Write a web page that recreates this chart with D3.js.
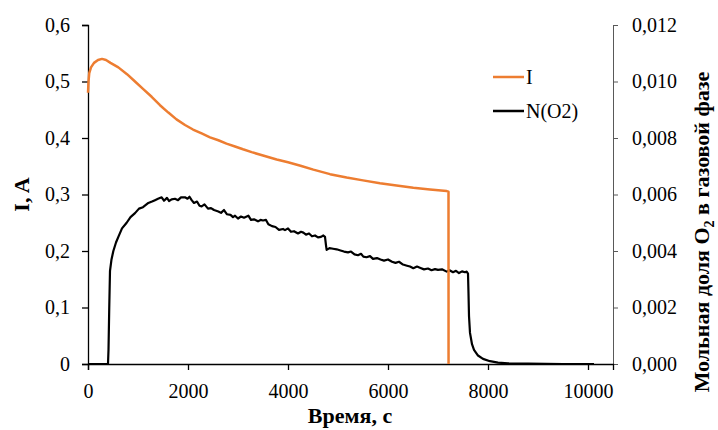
<!DOCTYPE html>
<html>
<head>
<meta charset="utf-8">
<script src="https://cdn.jsdelivr.net/npm/d3@7"></script>
<style>
  body { margin: 0; background: #fff; }
  svg text { font-family: "Liberation Serif", "Times New Roman", serif !important; }
</style>
</head>
<body>
<svg id="chart_svg" width="718" height="430"></svg>
<script>
// time, s / current, A
var currentTime = [0, 10, 25, 60, 120, 200, 280, 360, 450, 607, 780, 940, 1100, 1273, 1440, 1607, 1770, 1940, 2100, 2273, 2440, 2607, 2770, 2940, 3100, 3273, 3500, 3773, 4000, 4250, 4507, 4840, 5173, 5500, 5840, 6170, 6507, 6840, 7173, 7210, 7211];
var currentValues = [0.48, 0.50, 0.515, 0.525, 0.533, 0.538, 0.540, 0.538, 0.533, 0.525, 0.513, 0.500, 0.487, 0.473, 0.458, 0.445, 0.433, 0.423, 0.415, 0.408, 0.401, 0.396, 0.390, 0.385, 0.380, 0.375, 0.369, 0.362, 0.357, 0.351, 0.344, 0.336, 0.330, 0.325, 0.320, 0.316, 0.312, 0.309, 0.306, 0.305, 0];

// time, s / O2 mole fraction in gas phase
var o2Time = [0, 400, 410, 425, 440, 470, 507, 560, 607, 680, 773, 850, 940, 1020, 1100, 1207, 1280, 1340, 1400, 1473, 1520, 1580, 1620, 1673, 1740, 1800, 1860, 1940, 1990, 2030, 2073, 2120, 2180, 2230, 2273, 2330, 2400, 2460, 2520, 2607, 2660, 2720, 2780, 2850, 2900, 2940, 3000, 3060, 3120, 3207, 3260, 3320, 3400, 3450, 3500, 3560, 3607, 3680, 3750, 3820, 3900, 3940, 4000, 4060, 4120, 4200, 4260, 4307, 4360, 4420, 4480, 4540, 4600, 4660, 4707, 4740, 4760, 4773, 4830, 4900, 4973, 5050, 5120, 5200, 5260, 5330, 5400, 5460, 5507, 5570, 5640, 5700, 5780, 5850, 5920, 6000, 6080, 6150, 6220, 6300, 6380, 6440, 6507, 6580, 6650, 6720, 6800, 6870, 6940, 7000, 7080, 7173, 7230, 7300, 7360, 7420, 7480, 7540, 7573, 7600, 7610, 7620, 7640, 7680, 7720, 7800, 7900, 8040, 8200, 8400, 8800, 9500, 10120];
var o2Values = [0, 0, 0.0005, 0.0020, 0.0033, 0.0037, 0.0040, 0.0043, 0.0045, 0.0048, 0.0050, 0.0052, 0.00534, 0.0055, 0.00555, 0.0057, 0.00575, 0.0058, 0.00585, 0.0059, 0.00578, 0.00588, 0.00577, 0.00583, 0.00585, 0.0058, 0.0059, 0.0059, 0.00585, 0.00592, 0.0058, 0.0057, 0.00575, 0.0056, 0.00558, 0.00565, 0.0055, 0.00552, 0.00545, 0.0054, 0.00535, 0.00545, 0.0053, 0.00528, 0.0052, 0.00525, 0.00515, 0.00522, 0.00518, 0.00525, 0.0051, 0.00512, 0.00505, 0.0051, 0.00508, 0.0051, 0.00495, 0.00488, 0.00485, 0.00475, 0.00478, 0.00474, 0.0048, 0.00468, 0.0047, 0.00462, 0.00468, 0.00465, 0.00458, 0.00462, 0.00452, 0.00455, 0.00448, 0.0045, 0.00455, 0.0045, 0.0042, 0.00404, 0.0041, 0.00408, 0.00406, 0.00402, 0.00398, 0.00395, 0.00398, 0.00388, 0.00385, 0.0039, 0.0038, 0.00378, 0.00382, 0.00372, 0.00375, 0.0037, 0.00366, 0.0037, 0.00362, 0.00358, 0.00362, 0.00352, 0.00348, 0.00345, 0.00339, 0.00345, 0.0034, 0.00335, 0.00338, 0.00332, 0.00336, 0.00333, 0.00335, 0.00327, 0.00332, 0.00325, 0.0033, 0.00322, 0.00328, 0.00325, 0.00327, 0.0032, 0.0025, 0.0017, 0.0011, 0.0007, 0.0005, 0.0003, 0.00018, 0.0001, 0.00005, 0.00002, 0.00001, 0, 0];

var xTicks = [0, 2000, 4000, 6000, 8000, 10000];
var leftTicks = [0, 0.1, 0.2, 0.3, 0.4, 0.5, 0.6];
var rightTicks = [0, 0.002, 0.004, 0.006, 0.008, 0.010, 0.012];
var seriesNames = ["I", "N(O2)"];
var seriesColors = ["#ED7D31", "#000000"];

drawChart();

function drawChart() {
  var svg = d3.select("#chart_svg");
  var left = 88, right = 613, top = 25, bottom = 364;
  var serif = "'Liberation Serif', 'Times New Roman', serif";

  var xScale = d3.scaleLinear().domain([0, 10500]).range([left, right]);
  var yLeft = d3.scaleLinear().domain([0, 0.6]).range([bottom, top]);
  var yRight = d3.scaleLinear().domain([0, 0.012]).range([bottom, top]);

  var comma = function(digits) {
    return function(d) { return d3.format("." + digits + "f")(d).replace(".", ","); };
  };

  // right axis first so the plot lines sit on top
  var rAxis = svg.append("g")
     .attr("transform", "translate(" + right + ",0)")
     .call(d3.axisRight(yRight).tickValues(rightTicks).tickFormat(comma(3)).tickSizeOuter(0).tickSize(5).tickPadding(14));
  rAxis.select(".domain").attr("stroke", "#595959");
  rAxis.selectAll(".tick line").attr("stroke", "#595959");

  var xAxis = svg.append("g")
     .attr("transform", "translate(0," + bottom + ")")
     .call(d3.axisBottom(xScale).tickValues(xTicks).tickFormat(d => d).tickSizeOuter(0).tickSize(6).tickPadding(14));

  var lAxis = svg.append("g")
     .attr("transform", "translate(" + left + ",0)")
     .call(d3.axisLeft(yLeft).tickValues(leftTicks).tickFormat(d => d === 0 ? "0" : comma(1)(d)).tickSizeOuter(0).tickSize(6).tickPadding(12));

  [xAxis, lAxis].forEach(function(a) {
    a.select(".domain").attr("stroke", "#000").attr("stroke-width", 1.3);
    a.selectAll(".tick line").attr("stroke", "#000").attr("stroke-width", 1.3);
  });
  svg.selectAll("g").attr("font-family", serif);
  svg.selectAll(".tick text")
     .style("font-family", serif)
     .attr("font-size", 20)
     .attr("fill", "#000");

  // series
  var currentLine = d3.line()
      .x((d, i) => xScale(currentTime[i]))
      .y(d => yLeft(d));
  var o2Line = d3.line()
      .x((d, i) => xScale(o2Time[i]))
      .y(d => yRight(d));

  svg.append("path")
     .attr("d", o2Line(o2Values))
     .attr("fill", "none")
     .attr("stroke", seriesColors[1])
     .attr("stroke-width", 2.2)
     .attr("stroke-linejoin", "round");

  svg.append("path")
     .attr("d", currentLine(currentValues))
     .attr("fill", "none")
     .attr("stroke", seriesColors[0])
     .attr("stroke-width", 2.5)
     .attr("stroke-linejoin", "round");

  // legend
  var legend = svg.append("g").attr("transform", "translate(493,77)");
  seriesNames.forEach(function(name, i) {
    legend.append("line")
          .attr("x1", 0).attr("x2", 31)
          .attr("y1", i * 34).attr("y2", i * 34)
          .attr("stroke", seriesColors[i])
          .attr("stroke-width", 2.5);
    legend.append("text")
          .attr("x", 33)
          .attr("y", i * 34 + 7)
          .attr("font-size", 20)
          .style("font-family", serif)
          .text(name);
  });

  // titles
  svg.append("text")
     .attr("x", (left + 588) / 2 + 12)
     .attr("y", 423)
     .attr("text-anchor", "middle")
     .attr("font-size", 22)
     .attr("font-weight", "bold")
     .style("font-family", serif)
     .text("Время, с");

  svg.append("text")
     .attr("transform", "translate(29," + ((top + bottom) / 2) + ") rotate(-90)")
     .attr("text-anchor", "middle")
     .attr("font-size", 22)
     .attr("font-weight", "bold")
     .style("font-family", serif)
     .text("I, A");

  var rTitle = svg.append("text")
     .attr("transform", "translate(709,232) rotate(-90)")
     .attr("text-anchor", "middle")
     .attr("font-size", 22)
     .attr("font-weight", "bold")
     .style("font-family", serif);
  rTitle.append("tspan").text("Мольная доля O");
  rTitle.append("tspan").attr("font-size", 14).attr("dy", 5).text("2");
  rTitle.append("tspan").attr("dy", -5).text(" в газовой фазе");
}
</script>
</body>
</html>
